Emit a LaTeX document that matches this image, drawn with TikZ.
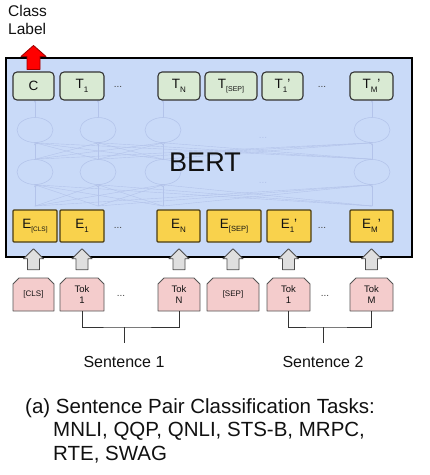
\documentclass[tikz,border=0pt]{standalone}
\usepackage{fontspec}
\setmainfont{Liberation Sans}
\usetikzlibrary{arrows.meta,shapes.geometric}
\definecolor{bertbg}{HTML}{C9DAF8}
\definecolor{tfill}{HTML}{D9EAD3}
\definecolor{efill}{HTML}{F9D24C}
\definecolor{edraw}{HTML}{4A3C12}
\definecolor{tokfill}{HTML}{F4CCCC}
\definecolor{tokdraw}{HTML}{555555}
\definecolor{netcol}{HTML}{B3C3EA}
\definecolor{txt}{HTML}{111111}
\newcommand\sbs[2][8]{\raisebox{-0.5ex}{\fontsize{#1}{#1}\selectfont #2}}
\tikzset{
  tbox/.style={rectangle, rounded corners=4pt, fill=tfill, draw=black!80, line width=1.1pt,
    minimum height=28pt, inner sep=0pt, font=\fontsize{13.5}{13.5}\selectfont, text=txt},
  ebox/.style={rectangle, rounded corners=1pt, fill=efill, draw=edraw, line width=1.1pt,
    minimum height=32pt, inner sep=0pt, font=\fontsize{13.5}{13.5}\selectfont, text=txt},
  toklabel/.style={inner sep=0pt, minimum height=33pt, align=center,
    font=\fontsize{9.5}{10.5}\selectfont, text=txt},
  dotsnode/.style={inner sep=0pt, font=\fontsize{10}{10}\selectfont, text=txt!80},
  netell/.style={ellipse, draw=netcol, line width=0.55pt, minimum width=36pt, minimum height=25pt, inner sep=0pt},
  netline/.style={draw=netcol, line width=0.4pt, -{Stealth[length=2.5pt,width=2pt]}},
  grayarrow/.pic={\path[fill=gray!25, draw=black!70, line width=0.8pt, line join=round]
     (-6,-8) -- (-6,-19) -- (-10,-19) -- (0,-29) -- (10,-19) -- (6,-19) -- (6,-8) -- cycle;},
  redarrow/.pic={\path[fill=red, draw=red!60!black, line width=0.8pt, line join=round]
     (-6.5,-2) -- (-6.5,-15) -- (-12.5,-15) -- (0,-26) -- (12.5,-15) -- (6.5,-15) -- (6.5,-2) -- cycle;},
  conn/.style={draw=black!80, line width=0.9pt}
}
\newcommand\tokbox[4]{%
  \path[fill=tokfill, draw=tokdraw, line width=0.8pt, line join=round]
    (#2-#3/2,311) -- (#2-#3/2,284) -- (#2-#3/2+6,278) -- (#2+#3/2-6,278) -- (#2+#3/2,284) -- (#2+#3/2,311) -- cycle;
  \node[toklabel, minimum width=#3pt] (#1) at (#2,294.5) {#4};}
\begin{document}
\begin{tikzpicture}[x=1pt,y=-1pt]
\useasboundingbox[fill=white] (0,0) rectangle (430,475);

% main BERT box
\node[rectangle, fill=bertbg, draw=black, line width=2pt, minimum width=406pt, minimum height=199pt, inner sep=0pt] (bert) at (209,157.5) {};

% network ellipses
\foreach \n/\xx in {1/35,2/98,3/163,4/372}{
  \node[netell] (u\n) at (\xx,130) {};
  \node[netell] (l\n) at (\xx,172) {};
  \coordinate (b\n) at (\xx,206);
}
\foreach \i in {1,...,4}{
  \foreach \j in {1,...,4}{
    \draw[netline] (b\i) -- (l\j.south);
    \draw[netline] (l\i.north) -- (u\j.south);
  }
  \draw[netline] (u\i.north) -- (u\i.north |- 0,100);
}
\node[dotsnode, text=netcol] (nd1) at (263,138) {...};
\node[dotsnode, text=netcol] (nd2) at (263,183) {...};

\node[inner sep=0pt, font=\fontsize{27}{27}\selectfont, text=txt] (bertlabel) at (205,162) {BERT};

% top output boxes
\node[tbox, minimum width=41pt] (c) at (33.5,86) {C};
\node[tbox, minimum width=44pt] (t1) at (82,86) {T\sbs{1}};
\node[dotsnode] (td1) at (118,87) {...};
\node[tbox, minimum width=42pt] (tn) at (179,86) {T\sbs{N}};
\node[tbox, minimum width=52pt] (tsep) at (231,86) {T\sbs[7]{[SEP]}};
\node[tbox, minimum width=41pt] (t1p) at (282.5,86) {T\sbs{1}'};
\node[dotsnode] (td2) at (322,87) {...};
\node[tbox, minimum width=43pt] (tmp) at (371.5,86) {T\sbs{M}'};

% embedding boxes
\node[ebox, minimum width=44pt] (ecls) at (35,226) {E\sbs[6.5]{[CLS]}};
\node[ebox, minimum width=44pt] (e1) at (82,226) {E\sbs{1}};
\node[dotsnode] (ed1) at (118,228) {...};
\node[ebox, minimum width=43pt] (en) at (178.5,226) {E\sbs{N}};
\node[ebox, minimum width=54pt] (esep) at (234,226) {E\sbs[7.5]{[SEP]}};
\node[ebox, minimum width=44pt] (e1p) at (289,226) {E\sbs{1}'};
\node[dotsnode] (ed2) at (322,228) {...};
\node[ebox, minimum width=43pt] (emp) at (371.5,226) {E\sbs{M}'};

% red output arrow
\pic at (c.north) {redarrow};
\node[anchor=north west, inner sep=0pt, align=left, font=\fontsize{15.5}{18}\selectfont, text=txt] (classlabel) at (8,5.5) {Class\\Label};

% token boxes
\tokbox{tcls}{33.5}{41}{\fontsize{8}{9}\selectfont [CLS]}
\tokbox{tk1}{82}{44}{Tok\\1}
\node[dotsnode] (tdots1) at (121,296) {...};
\tokbox{tkn}{179}{42}{Tok\\N}
\tokbox{tsep2}{233}{52}{\fontsize{8}{9}\selectfont [SEP]}
\tokbox{tk1p}{288.5}{43}{Tok\\1}
\node[dotsnode] (tdots2) at (325,296) {...};
\tokbox{tkm}{371.5}{43}{Tok\\M}

% gray input arrows
\foreach \t in {tcls,tk1,tkn,tsep2,tk1p,tkm}{ \pic at (\t.north) {grayarrow}; }

% sentence brackets
\coordinate (s1c) at (124,327);
\coordinate (s1e) at (124,343);
\coordinate (s2c) at (323,327);
\coordinate (s2e) at (323,343);
\draw[conn] (tk1.south) |- (s1c) -| (tkn.south);
\draw[conn] (s1c) -- (s1e);
\draw[conn] (tk1p.south) |- (s2c) -| (tkm.south);
\draw[conn] (s2c) -- (s2e);
\node[inner sep=0pt, font=\fontsize{16}{16}\selectfont, text=txt] (sent1) at (124,362) {Sentence 1};
\node[inner sep=0pt, font=\fontsize{16}{16}\selectfont, text=txt] (sent2) at (323,362) {Sentence 2};

% caption
\node[anchor=north west, inner sep=0pt, align=left, font=\fontsize{20.5}{23.5}\selectfont, text=txt] (caption) at (25,398)
  {(a) Sentence Pair Classification Tasks:\\\hspace*{28pt}MNLI, QQP, QNLI, STS-B, MRPC,\\\hspace*{28pt}RTE, SWAG};
\end{tikzpicture}
\end{document}
